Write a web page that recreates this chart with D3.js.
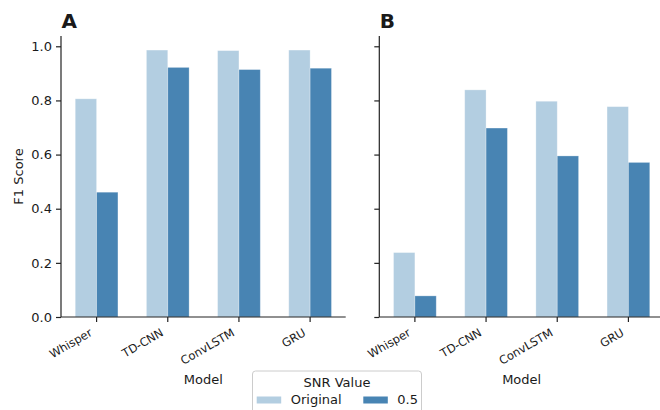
<!DOCTYPE html>
<html><head><meta charset="utf-8">
<script src="https://cdn.jsdelivr.net/npm/d3@7"></script>
<style>
body{margin:0;background:#fff;}
text{font-family:"DejaVu Sans",sans-serif;fill:#1a1a1a;}
</style></head>
<body><svg id="c" width="660" height="410"></svg>
<script>
const categories = ["Whisper","TD-CNN","ConvLSTM","GRU"];
const series = ["Original","0.5"];
const panelA_original = [0.806,0.986,0.984,0.986];
const panelA_snr05   = [0.461,0.922,0.914,0.919];
const panelB_original = [0.238,0.839,0.797,0.777];
const panelB_snr05   = [0.078,0.698,0.595,0.571];
const yTicks = [0.0,0.2,0.4,0.6,0.8,1.0];
const colors = ["#b3cee1","#4884b3"];

const svg = d3.select("#c");
const plotTop = 36, plotBottom = 317;
const y = d3.scaleLinear().domain([0,1.038]).range([plotBottom, plotTop]);

function panel(left, right, vals, label, showLabels){
  const g = svg.append("g");
  const x = d3.scaleBand().domain(categories).range([left,right]).paddingInner(0.4).paddingOuter(0.2);
  const xs = d3.scaleBand().domain(series).range([0,x.bandwidth()]);
  categories.forEach((c,i)=>{
    vals.forEach((arr,si)=>{
      g.append("rect")
        .attr("x", x(c)+xs(series[si]))
        .attr("y", y(arr[i]))
        .attr("width", xs.bandwidth())
        .attr("height", y(0)-y(arr[i]))
        .attr("fill", colors[si])
        .attr("stroke","rgba(255,255,255,0.35)").attr("stroke-width",0.8);
    });
  });
  const ya = g.append("g").attr("transform",`translate(${left},0)`)
    .call(d3.axisLeft(y).tickValues(yTicks).tickSize(5).tickPadding(4).tickFormat(showLabels? d3.format(".1f") : ""));
  ya.select(".domain").attr("d",`M0,${plotTop}V${plotBottom}`);
  const xa = g.append("g").attr("transform",`translate(0,${plotBottom})`)
    .call(d3.axisBottom(x).tickSize(5));
  xa.select(".domain").attr("d",`M${left},0H${right}`);
  [ya,xa].forEach(a=>{
    a.selectAll("path,line").attr("stroke","#222").attr("stroke-width",1.2);
    a.selectAll("text").style("font-family","DejaVu Sans").attr("fill","#1a1a1a");
  });
  ya.selectAll("text").attr("font-size",13);
  xa.selectAll("text").attr("font-size",11.5)
    .attr("x",0).attr("y",0).attr("dy",0).attr("text-anchor","end")
    .attr("transform","translate(-3.5,18) rotate(-30)");
  g.append("text").attr("x",left+0.5).attr("y",28.3).attr("font-size",20).attr("font-weight","bold").text(label).attr("fill","#000");
  g.append("text").attr("x",(left+right)/2).attr("y",384.3).attr("text-anchor","middle").attr("font-size",13).text("Model");
}
panel(61, 345.7, [panelA_original,panelA_snr05], "A", true);
panel(379.3, 664, [panelB_original,panelB_snr05], "B", false);

svg.append("text").attr("transform","translate(22.5,176.5) rotate(-90)").attr("text-anchor","middle").attr("font-size",13).text("F1 Score");

// legend
const lg = svg.append("g");
lg.append("rect").attr("x",252.5).attr("y",371).attr("width",169).attr("height",60).attr("rx",3)
  .attr("fill","#fff").attr("fill-opacity",0.8).attr("stroke","#cccccc").attr("stroke-width",1);
lg.append("text").attr("x",337).attr("y",386.7).attr("text-anchor","middle").attr("font-size",13).text("SNR Value");
const lx = [256.7, 363.3];
series.forEach((s,i)=>{
  lg.append("rect").attr("x",lx[i]).attr("y",396.5).attr("width",24.5).attr("height",7).attr("fill",colors[i]);
  lg.append("text").attr("x",lx[i]+34).attr("y",404.3).attr("font-size",13).text(s);
});
</script></body></html>
